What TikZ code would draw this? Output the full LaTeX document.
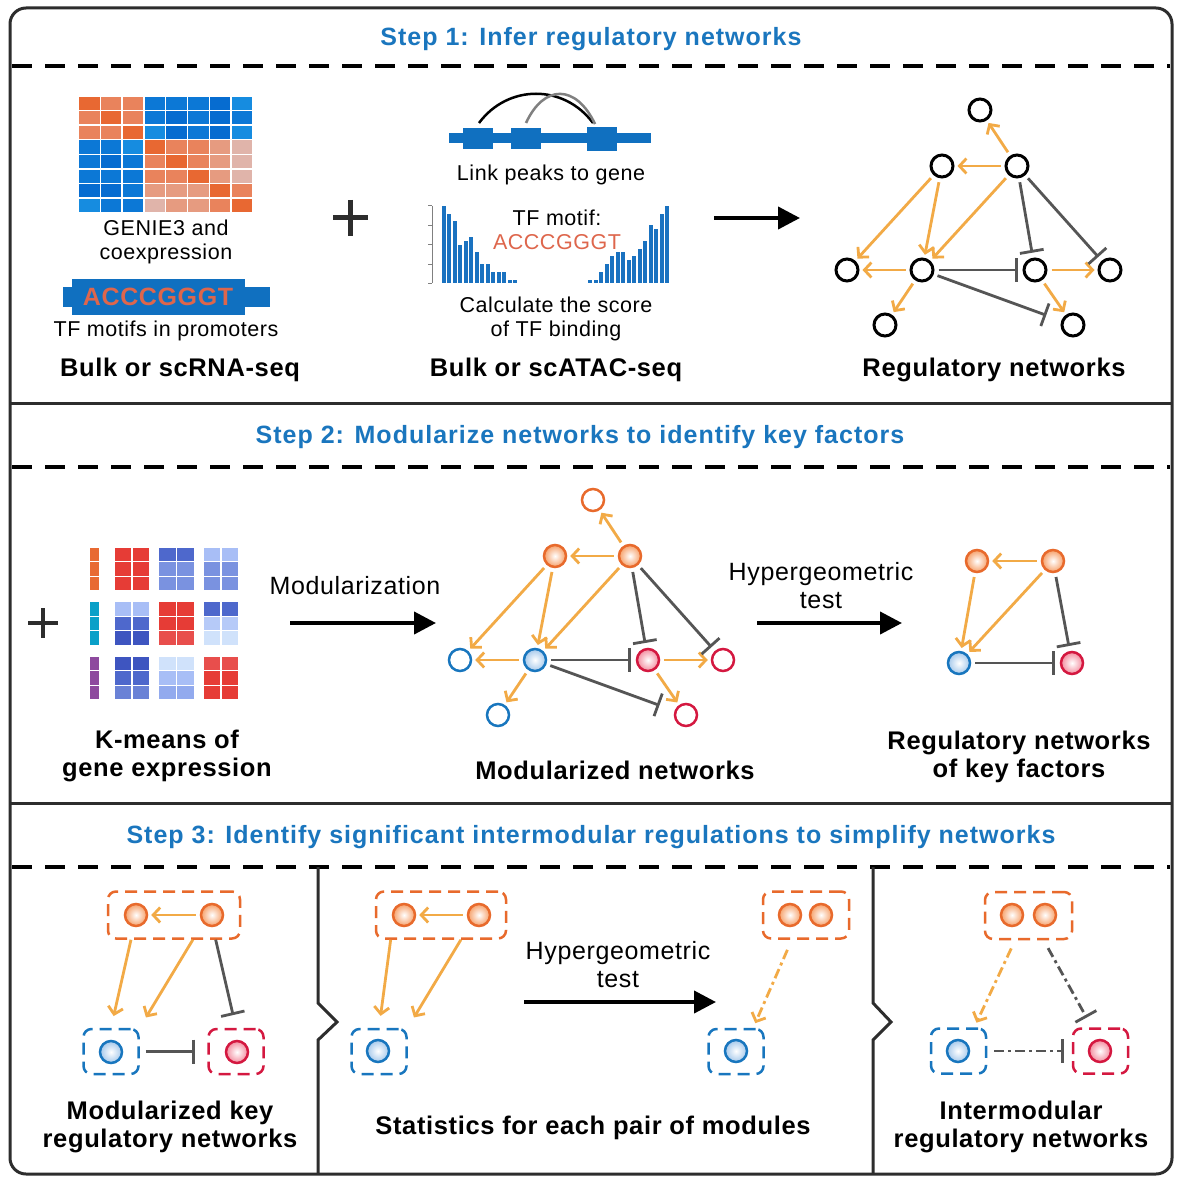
\documentclass[tikz,border=0pt]{standalone}
\usepackage{fontspec}
\setmainfont[LetterSpace=2.5]{Liberation Sans}
\usetikzlibrary{arrows.meta,calc,shadings}

\definecolor{stepblue}{RGB}{26,118,190}
\definecolor{framegray}{RGB}{45,45,45}
\definecolor{actor}{RGB}{242,170,70}
\definecolor{inhgray}{RGB}{85,85,85}
\definecolor{nodeor}{RGB}{232,106,44}
\definecolor{nodebl}{RGB}{24,118,190}
\definecolor{nodered}{RGB}{212,24,64}
\definecolor{fillor}{RGB}{246,160,105}
\definecolor{fillbl}{RGB}{165,200,235}
\definecolor{fillred}{RGB}{243,140,158}
\definecolor{motifblue}{RGB}{16,112,192}
\definecolor{motifor}{RGB}{222,102,76}
\definecolor{barblue}{RGB}{26,114,192}
% heatmap
\definecolor{hmD}{RGB}{232,104,50}
\definecolor{hmM}{RGB}{233,131,92}
\definecolor{hmL}{RGB}{230,155,128}
\definecolor{hmV}{RGB}{224,180,170}
\definecolor{hma}{RGB}{12,120,214}
\definecolor{hmb}{RGB}{6,108,208}
\definecolor{hmc}{RGB}{22,140,224}
% k-means
\definecolor{kr}{RGB}{230,60,54}
\definecolor{kr2}{RGB}{232,78,76}
\definecolor{kb1}{RGB}{62,85,192}
\definecolor{kb2}{RGB}{78,104,204}
\definecolor{kb3}{RGB}{106,130,214}
\definecolor{kb4}{RGB}{122,146,224}
\definecolor{kb5}{RGB}{146,170,238}
\definecolor{kb6}{RGB}{168,190,246}
\definecolor{kb7}{RGB}{182,202,248}
\definecolor{kb8}{RGB}{208,226,251}
\definecolor{kor}{RGB}{232,106,50}
\definecolor{kcy}{RGB}{10,160,200}
\definecolor{kpu}{RGB}{142,74,158}

\tikzset{
  outerframe/.style={draw=framegray, line width=3pt},
  sepline/.style={line width=4pt, dash pattern=on 20pt off 13pt},
  steptitle/.style={text=stepblue, font=\fontsize{25}{28}\selectfont\bfseries\addfontfeatures{LetterSpace=4}},
  lab/.style={font=\fontsize{21.5}{24}\selectfont, align=center, inner sep=0pt},
  midlab/.style={font=\fontsize{25}{28}\selectfont, align=center, inner sep=0pt},
  biglab/.style={font=\fontsize{25.5}{28.5}\selectfont\bfseries, align=center, inner sep=0pt},
  flow/.style={line width=4pt, -{Triangle[length=22pt,width=22pt]}},
  plussign/.style={line width=5pt, draw=framegray},
  gnode/.style={circle, draw, line width=3pt, minimum size=22pt, inner sep=0pt},
  onode/.style={gnode, draw=nodeor, line width=2.5pt},
  bnode/.style={gnode, draw=nodebl, line width=2.5pt},
  rnode/.style={gnode, draw=nodered, line width=2.5pt},
  ofill/.style={onode, inner color=white, outer color=fillor},
  bfill/.style={bnode, inner color=white, outer color=fillbl},
  rfill/.style={rnode, inner color=white, outer color=fillred},
  act/.style={draw=actor, line width=2.8pt, -{Straight Barb[length=7pt,width=15pt]}, shorten <=4pt, shorten >=3pt},
  inh/.style={draw=inhgray, line width=2.8pt, -{Bar[width=24pt]}, shorten <=4pt, shorten >=5pt},
  dashdot/.style={dash pattern=on 10pt off 4pt on 3pt off 4pt},
  mbox/.style={rounded corners=8pt, line width=2.5pt, dash pattern=on 12pt off 7pt, inner sep=0pt},
  orbox/.style={mbox, draw=nodeor, minimum height=47pt},
  blbox/.style={mbox, draw=nodebl, minimum width=55pt, minimum height=45pt},
  rdbox/.style={mbox, draw=nodered, minimum width=55pt, minimum height=45pt},
}

\begin{document}
\begin{tikzpicture}[x=1pt, y=-1pt]
\fill[white] (0,0) rectangle (1182,1182);
\useasboundingbox (0,0) rectangle (1182,1182);

% frame and separators
\draw[outerframe, rounded corners=16pt] (10,8) rectangle (1172,1174);
\draw[outerframe] (10,403) -- (1172,403) (10,803) -- (1172,803);
\foreach \y in {66,467,867} \draw[sepline] (12,\y) -- (1170,\y);
\draw[outerframe] (318,867) -- (318,1003) -- (337,1022) -- (318,1040) -- (318,1174);
\draw[outerframe] (873,867) -- (873,1003) -- (891,1022) -- (873,1040) -- (873,1174);

\node[steptitle] (t1) at (591,39) {Step 1: Infer regulatory networks};
\node[steptitle] (t2) at (580,437) {Step 2: Modularize networks to identify key factors};
\node[steptitle] (t3) at (591,837) {Step 3: Identify significant intermodular regulations to simplify networks};

% step 1: heatmap and motif bar
\foreach \row [count=\ri from 0] in {{D,M,M,a,a,a,b,c},{M,D,M,a,b,a,b,a},{M,M,D,c,b,a,b,c},
    {a,a,c,D,M,M,L,V},{a,b,a,M,D,M,L,V},{a,a,a,M,M,D,L,V},{b,b,a,L,L,L,D,M},{c,a,a,V,L,L,M,D}}
  \foreach \c [count=\ci from 0] in \row
    \filldraw[fill=hm\c, draw=white, line width=1.4pt] (78.5+\ci*21.8, 96+\ri*14.6) rectangle ++(21.8,14.6);
\node[lab] (genie) at (166,242) {GENIE3 and\\coexpression};
\fill[motifblue] (63,287) rectangle (270,307);
\fill[motifblue] (72,279) rectangle (245,315);
\node[font=\fontsize{25}{25}\selectfont\bfseries, text=motifor] (motif) at (158,297) {ACCCGGGT};
\node[lab] (tfprom) at (166,331) {TF motifs in promoters};
\node[biglab] (bulk1) at (180,370) {Bulk or scRNA-seq};

\draw[plussign] (333,218) -- (368,218) (350,200) -- (350,236);

% step 1: ATAC
\fill[motifblue] (449,133) rectangle (651,143);
\fill[motifblue] (463,128) rectangle (493,149);
\fill[motifblue] (511,128) rectangle (541,149);
\fill[motifblue] (587,127) rectangle (617,151);
\draw[line width=2.5pt] (479,123) .. controls (508,84) and (564,84) .. (593,123);
\draw[line width=2.5pt, gray] (526,123) .. controls (544,84) and (576,84) .. (595,124);
\node[lab] (link) at (551,175) {Link peaks to gene};

\draw[gray, line width=1pt] (432,206) -- (432,283);
\foreach \t in {206,225.5,245,264,283} \draw[gray, line width=1pt] (428,\t) -- (432,\t);
\foreach \h [count=\i from 0] in {77,69,62,38,42,46,31,19,19,11,11,11,3.3,3.3}
  \fill[barblue] (441.7+\i*5.5, 283) rectangle ++(4,-\h);
\foreach \h [count=\i from 0] in {3.3,3.3,11,19,27,31,31,23,27,34,42,58,54,69,77}
  \fill[barblue] (588.3+\i*5.5, 283) rectangle ++(4,-\h);
\node[lab] (tfmotif) at (557,230) {TF motif:\\\textcolor{motifor}{ACCCGGGT}};
\node[lab] (calc) at (556,318.5) {Calculate the score\\of TF binding};
\node[biglab] (bulk2) at (556,370) {Bulk or scATAC-seq};

\coordinate (f1a) at (714,218);
\coordinate (f1b) at (800,218);
\draw[flow] (f1a) -- (f1b);

% step 1: network
\node[gnode] (n1) at (980,110) {};
\node[gnode] (n2) at (942,166) {};
\node[gnode] (n3) at (1017,166) {};
\node[gnode] (n4) at (847,270) {};
\node[gnode] (n5) at (922,270) {};
\node[gnode] (n6) at (1035,270) {};
\node[gnode] (n7) at (1110,270) {};
\node[gnode] (n8) at (885,325) {};
\node[gnode] (n9) at (1073,325) {};
\node[biglab] (regnet) at (994,370) {Regulatory networks};

% step 2: k-means
\draw[plussign, line width=4.5pt] (28,623) -- (58,623) (43,608) -- (43,638);
\foreach \c [count=\g from 0] in {kor,kcy,kpu}
  \foreach \rw in {0,1,2}
    \filldraw[fill=\c, draw=white, line width=1.2pt] (89, 547+\g*54.5+\rw*14.6) rectangle ++(11,14.6);
\foreach \c [count=\i from 0] in {kr,kr,kr,kb2,kb4,kb4,kb6,kb4,kb4,
    kb6,kb2,kb1,kr,kr,kr2,kb2,kb7,kb8,
    kb1,kb2,kb3,kb8,kb6,kb5,kr2,kr,kr}{
  \pgfmathtruncatemacro\grp{\i/9}
  \pgfmathtruncatemacro\blk{mod(\i,9)/3}
  \pgfmathtruncatemacro\rw{mod(\i,3)}
  \foreach \s in {0,1}
    \filldraw[fill=\c, draw=white, line width=1.2pt] (114+\blk*44.5+\s*18, 547+\grp*54.5+\rw*14.6) rectangle ++(18,14.6);
}
\node[biglab] (kmeans) at (167,756) {K-means of\\gene expression};

\node[midlab] (modlab) at (355,586) {Modularization};
\coordinate (f2a) at (290,623);
\coordinate (f2b) at (436,623);
\draw[flow] (f2a) -- (f2b);

% step 2: modularized network
\node[onode] (m1) at (593,500) {};
\node[ofill] (m2) at (555,556) {};
\node[ofill] (m3) at (630,556) {};
\node[bnode] (m4) at (460,660) {};
\node[bfill] (m5) at (535,660) {};
\node[rfill] (m6) at (648,660) {};
\node[rnode] (m7) at (723,660) {};
\node[bnode] (m8) at (498,715) {};
\node[rnode] (m9) at (686,715) {};
\node[biglab] (modnet) at (615,770) {Modularized networks};

\foreach \a/\b in {3/1,3/2,2/4,2/5,3/5,5/4,5/8,6/7,6/9}{
  \draw[act] (n\a) -- (n\b);
  \draw[act] (m\a) -- (m\b);
}
\foreach \a/\b in {3/6,3/7,5/6}{
  \draw[inh] (n\a) -- (n\b);
  \draw[inh] (m\a) -- (m\b);
}
\draw[inh, shorten >=16pt] (n5) -- (n9);
\draw[inh, shorten >=16pt] (m5) -- (m9);

\node[midlab] (hyper1) at (821,586) {Hypergeometric\\test};
\coordinate (f3a) at (757,623);
\coordinate (f3b) at (902,623);
\draw[flow] (f3a) -- (f3b);

% step 2: key factors
\node[ofill] (k1) at (977,561) {};
\node[ofill] (k2) at (1053,561) {};
\node[bfill] (k3) at (959,663) {};
\node[rfill] (k4) at (1072,663) {};
\draw[act] (k2) -- (k1);
\draw[act] (k1) -- (k3);
\draw[act] (k2) -- (k3);
\draw[inh] (k2) -- (k4);
\draw[inh] (k3) -- (k4);
\node[biglab] (keyreg) at (1019,757) {Regulatory networks\\of key factors};

% step 3: modularized key networks
\node[orbox, minimum width=132pt] (o1) at (174,915) {};
\node[blbox] (b1) at (111,1051.5) {};
\node[rdbox] (r1) at (236,1051.5) {};
\node[ofill] (p1) at (136,915) {};
\node[ofill] (p2) at (212,915) {};
\node[bfill] (q1) at (111,1052) {};
\node[rfill] (q2) at (237,1052) {};
\draw[act] (p2) -- (p1);
\draw[act, shorten <=0pt, shorten >=12pt] ($(o1.south west)!0.18!(o1.south east)$) -- (b1.north);
\draw[act, shorten <=0pt, shorten >=12pt] ($(o1.south west)!0.64!(o1.south east)$) -- (b1.north east);
\draw[inh, shorten <=0pt, shorten >=13pt] ($(o1.south west)!0.81!(o1.south east)$) -- (r1.north);
\draw[inh, shorten <=6pt, shorten >=12pt] (b1) -- (r1);
\node[biglab] (modkey) at (170,1127) {Modularized key\\regulatory networks};

% step 3: statistics
\node[orbox, minimum width=130pt] (o2) at (441,915) {};
\node[blbox] (b2) at (379,1051.5) {};
\node[ofill] (p3) at (404,915) {};
\node[ofill] (p4) at (479,915) {};
\node[bfill] (q3) at (378,1051) {};
\draw[act] (p4) -- (p3);
\draw[act, shorten <=0pt, shorten >=12pt] ($(o2.south west)!0.12!(o2.south east)$) -- (b2.north);
\draw[act, shorten <=0pt, shorten >=12pt] ($(o2.south west)!0.65!(o2.south east)$) -- (b2.north east);

\node[midlab] (hyper2) at (618,965) {Hypergeometric\\test};
\coordinate (f4a) at (524,1002);
\coordinate (f4b) at (716,1002);
\draw[flow] (f4a) -- (f4b);

\node[orbox, minimum width=86pt] (o3) at (806,915) {};
\node[blbox] (b3) at (736,1051.5) {};
\node[ofill] (p5) at (790,915) {};
\node[ofill] (p6) at (821,915) {};
\node[bfill] (q4) at (736,1051) {};
\draw[act, dashdot, shorten <=11pt, shorten >=5pt] ($(o3.south west)!0.34!(o3.south east)$) -- ($(b3.north)!0.6!(b3.north east)$);
\node[biglab] (stats) at (593,1128) {Statistics for each pair of modules};

% step 3: intermodular networks
\node[orbox, minimum width=87pt] (o4) at (1028.5,915.5) {};
\node[blbox] (b4) at (958.5,1051) {};
\node[rdbox] (r4) at (1100.5,1051) {};
\node[ofill] (p7) at (1012,915) {};
\node[ofill] (p8) at (1045,915) {};
\node[bfill] (q5) at (958,1051) {};
\node[rfill] (q6) at (1100,1051) {};
\draw[act, dashdot, shorten <=9pt, shorten >=5pt] ($(o4.south west)!0.35!(o4.south east)$) -- ($(b4.north)!0.55!(b4.north east)$);
\draw[inh, dashdot, shorten <=9pt, shorten >=11pt] ($(o4.south west)!0.67!(o4.south east)$) -- ($(r4.north west)!0.7!(r4.north)$);
\draw[inh, dashdot, shorten <=7pt, shorten >=8pt] (b4) -- (r4);
\node[biglab] (inter) at (1021,1127) {Intermodular\\regulatory networks};
\end{tikzpicture}
\end{document}
